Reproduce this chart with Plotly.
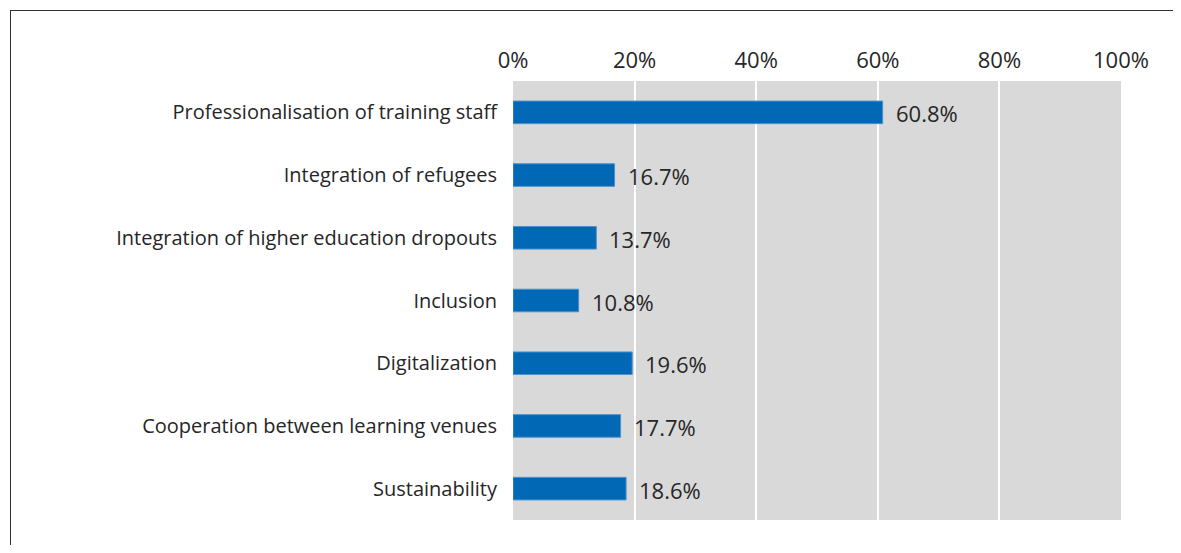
import plotly.graph_objects as go

# data
categories = [
    "Professionalisation of training staff",
    "Integration of refugees",
    "Integration of higher education dropouts",
    "Inclusion",
    "Digitalization",
    "Cooperation between learning venues",
    "Sustainability",
]
shares = [60.8, 16.7, 13.7, 10.8, 19.6, 17.7, 18.6]
tick_values = [0, 20, 40, 60, 80, 100]
tick_labels = ["0%", "20%", "40%", "60%", "80%", "100%"]

# page body has an 8px margin on every side, keep the figure inside the window
W, H = 1165, 537
M = dict(l=505, r=52, t=73, b=25)
pw = W - M["l"] - M["r"]
ph = H - M["t"] - M["b"]


def px_x(x):
    return (x - M["l"]) / pw


def px_y(y):
    return 1 - (y - M["t"]) / ph


font = "Open Sans, Noto Sans, sans-serif"
txt = "#262626"

fig = go.Figure()
fig.add_trace(go.Bar(
    x=shares,
    y=categories,
    orientation="h",
    width=0.36,
    marker=dict(color="#0068b4", line=dict(color="#4d92cc", width=1)),
    hoverinfo="skip",
))

for c, v in zip(categories, shares):
    fig.add_annotation(
        x=v, y=c, text=f"{v:.1f}%", showarrow=False,
        xanchor="left", xshift=11, yshift=-1,
        font=dict(size=22, color=txt, family=font),
    )

# frame lines (top and left)
fig.add_shape(type="line", xref="paper", yref="paper",
              x0=px_x(2), x1=px_x(W + 16), y0=px_y(2.5), y1=px_y(2.5),
              line=dict(color="#333333", width=1))
fig.add_shape(type="line", xref="paper", yref="paper",
              x0=px_x(2.5), x1=px_x(2.5), y0=px_y(2), y1=px_y(H + 16),
              line=dict(color="#333333", width=1))

fig.update_layout(
    width=W, height=H,
    margin=M,
    paper_bgcolor="white",
    plot_bgcolor="#d9d9d9",
    showlegend=False,
    font=dict(family=font, size=20, color=txt),
)
fig.update_xaxes(
    range=[0, 100], side="top", tickvals=tick_values, ticktext=tick_labels,
    tickfont=dict(size=22),
    showgrid=True, gridcolor="white", gridwidth=2, zeroline=False,
    ticklabelstandoff=8, fixedrange=True,
)
fig.update_yaxes(
    autorange="reversed", showgrid=False, ticklabelstandoff=15,
    fixedrange=True,
)

fig.write_html("out.html")
